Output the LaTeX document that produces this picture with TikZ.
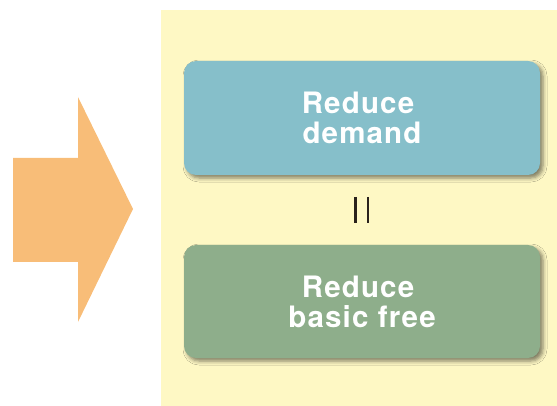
\documentclass[tikz,border=0pt]{standalone}
\usepackage{fontspec}
\setmainfont{TeX Gyre Heros}
\newfontfamily\boxfont[LetterSpace=4]{TeX Gyre Heros}
\usetikzlibrary{shadows.blur}

\definecolor{panelyellow}{HTML}{FEF8C4}
\definecolor{arroworange}{HTML}{F8BD78}
\definecolor{boxblue}{HTML}{86BFCA}
\definecolor{boxgreen}{HTML}{8EAE8B}
\definecolor{bardark}{HTML}{2A221C}

\tikzset{
  actionbox/.style={rounded corners=12pt, minimum width=356pt, minimum height=114pt,
    align=center, text=white, font=\boxfont\bfseries\fontsize{29.5}{30}\selectfont,
    blur shadow={shadow xshift=3pt, shadow yshift=-3pt, shadow blur radius=4pt, shadow opacity=50}},
}

\begin{document}
\begin{tikzpicture}[x=1pt,y=-1pt]
  \useasboundingbox (0,0) rectangle (557,406);
  % Background panel
  \fill[panelyellow] (161,10) rectangle (557,406);
  % Big arrow
  \fill[arroworange] (13,158) -- (78,158) -- (78,97) -- (133,209)
    -- (78,322) -- (78,262) -- (13,262) -- cycle;
  % The two boxes
  \node[actionbox, fill=boxblue] (demand) at (362,118) {Reduce\hspace*{8pt}\\demand};
  \node[actionbox, fill=boxgreen, minimum height=113pt] (free) at (362,301.5) {Reduce\hspace*{8pt}\\basic free};
  % Equality between them
  \node[minimum width=12.5pt, minimum height=26pt, inner sep=0pt] (eq) at (361.75,210) {};
  \draw[bardark, line width=2.5pt] (eq.north west) -- (eq.south west);
  \draw[bardark, line width=2.5pt] (eq.north east) -- (eq.south east);
\end{tikzpicture}
\end{document}
